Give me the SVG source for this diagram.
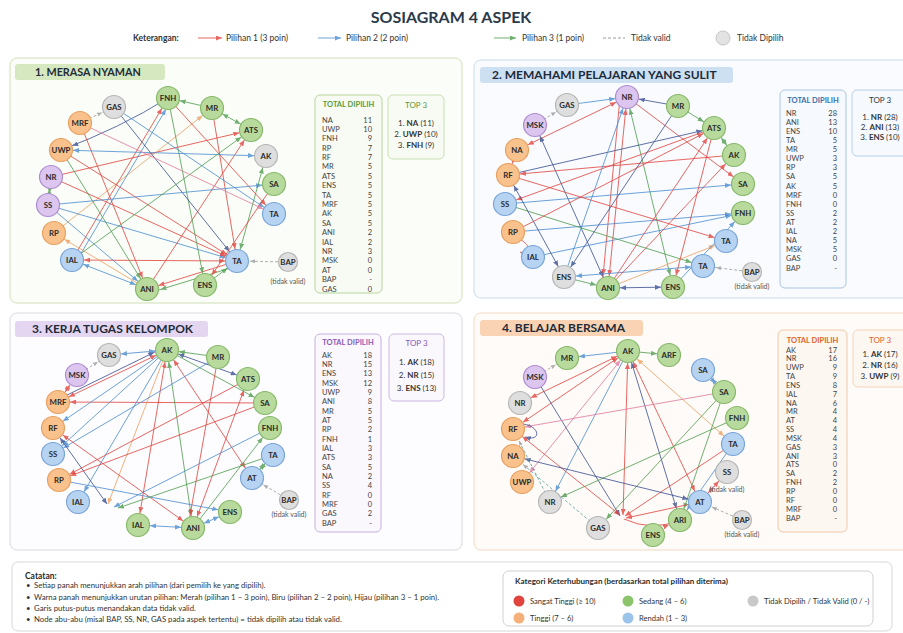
<svg xmlns="http://www.w3.org/2000/svg" width="903" height="633" viewBox="0 0 903 633">
<style>
text{font-family:Lato,"Open Sans","Liberation Sans",sans-serif;fill:#2b2b2b}
.ttl{font-size:16px;font-weight:700;fill:#2b3a4a;text-anchor:middle}
.lg{font-size:8.5px;fill:#333}
.pt{font-size:12px;font-weight:700;fill:#1e2b3a}
.n circle{stroke-width:1.2}
.n text{font-size:7.8px;font-weight:700;text-anchor:middle;fill:#2a2a2a}
.ng circle{fill:#b8da9c;stroke:#86b96a}
.no circle{fill:#f9c28c;stroke:#e8a060}
.np circle{fill:#dcc5ef;stroke:#ad8dcf}
.nb circle{fill:#b7d3f2;stroke:#79a5d8}
.nk circle{fill:#dedede;stroke:#b5b5b5}
.tv{font-size:7px;fill:#555;text-anchor:middle}
.c{fill:none;stroke-width:1;opacity:.8}
.r{stroke:#e2433d;marker-end:url(#mr)}.r.bi{marker-start:url(#mr)}
.b{stroke:#4a8dd0;marker-end:url(#mb)}.b.bi{marker-start:url(#mb)}
.g{stroke:#4f9d4f;marker-end:url(#mg)}.g.bi{marker-start:url(#mg)}
.d{stroke:#3a4f92;marker-end:url(#md)}.d.bi{marker-start:url(#md)}
.o{stroke:#f0a060;marker-end:url(#mo)}.o.bi{marker-start:url(#mo)}
.p{stroke:#e07aa0;marker-end:url(#mp)}.p.bi{marker-start:url(#mp)}
.k{stroke:#9c9c9c;stroke-dasharray:3 2;marker-end:url(#mk)}
.kt{stroke:#5aa0a0;stroke-dasharray:3 2;marker-end:url(#mk)}
.rf{stroke:#e2433d;marker-end:url(#mrf)}.rf.bi{marker-start:url(#mr)}
.bf{stroke:#4a8dd0;marker-end:url(#mbf)}
.gf{stroke:#4f9d4f;marker-end:url(#mgf)}
.df{stroke:#3a4f92;marker-end:url(#mdf)}.df.bi{marker-start:url(#md)}
.of{stroke:#f0a060;marker-end:url(#mof)}
.tb text{font-size:7.5px;fill:#444}
.tv2{text-anchor:end}
.th{font-size:7.5px;font-weight:700;text-anchor:middle}
.t3 text{font-size:8px;text-anchor:middle;fill:#333}
.t3 tspan.bn{font-weight:700}
.note{font-size:7.8px;fill:#333}
.kn{font-size:7.6px;fill:#333}
</style>
<defs>
<marker id="mr" viewBox="0 0 6 5" refX="18" refY="2.5" markerWidth="6" markerHeight="5" markerUnits="userSpaceOnUse" orient="auto-start-reverse"><path d="M0,0 L6,2.5 L0,5z" fill="#e2433d"/></marker>
<marker id="mb" viewBox="0 0 6 5" refX="18" refY="2.5" markerWidth="6" markerHeight="5" markerUnits="userSpaceOnUse" orient="auto-start-reverse"><path d="M0,0 L6,2.5 L0,5z" fill="#4a8dd0"/></marker>
<marker id="mg" viewBox="0 0 6 5" refX="18" refY="2.5" markerWidth="6" markerHeight="5" markerUnits="userSpaceOnUse" orient="auto-start-reverse"><path d="M0,0 L6,2.5 L0,5z" fill="#4f9d4f"/></marker>
<marker id="md" viewBox="0 0 6 5" refX="18" refY="2.5" markerWidth="6" markerHeight="5" markerUnits="userSpaceOnUse" orient="auto-start-reverse"><path d="M0,0 L6,2.5 L0,5z" fill="#3a4f92"/></marker>
<marker id="mo" viewBox="0 0 6 5" refX="18" refY="2.5" markerWidth="6" markerHeight="5" markerUnits="userSpaceOnUse" orient="auto-start-reverse"><path d="M0,0 L6,2.5 L0,5z" fill="#f0a060"/></marker>
<marker id="mp" viewBox="0 0 6 5" refX="18" refY="2.5" markerWidth="6" markerHeight="5" markerUnits="userSpaceOnUse" orient="auto-start-reverse"><path d="M0,0 L6,2.5 L0,5z" fill="#e07aa0"/></marker>
<marker id="mk" viewBox="0 0 6 5" refX="18" refY="2.5" markerWidth="6" markerHeight="5" markerUnits="userSpaceOnUse" orient="auto-start-reverse"><path d="M0,0.5 L5,2.5 L0,4.5z" fill="#9c9c9c"/></marker>
<marker id="mrf" viewBox="0 0 6 5" refX="6" refY="2.5" markerWidth="6" markerHeight="5" markerUnits="userSpaceOnUse" orient="auto"><path d="M0,0 L6,2.5 L0,5z" fill="#e2433d"/></marker>
<marker id="mbf" viewBox="0 0 6 5" refX="6" refY="2.5" markerWidth="6" markerHeight="5" markerUnits="userSpaceOnUse" orient="auto"><path d="M0,0 L6,2.5 L0,5z" fill="#4a8dd0"/></marker>
<marker id="mgf" viewBox="0 0 6 5" refX="6" refY="2.5" markerWidth="6" markerHeight="5" markerUnits="userSpaceOnUse" orient="auto"><path d="M0,0 L6,2.5 L0,5z" fill="#4f9d4f"/></marker>
<marker id="mdf" viewBox="0 0 6 5" refX="6" refY="2.5" markerWidth="6" markerHeight="5" markerUnits="userSpaceOnUse" orient="auto"><path d="M0,0 L6,2.5 L0,5z" fill="#3a4f92"/></marker>
<marker id="mof" viewBox="0 0 6 5" refX="6" refY="2.5" markerWidth="6" markerHeight="5" markerUnits="userSpaceOnUse" orient="auto"><path d="M0,0 L6,2.5 L0,5z" fill="#f0a060"/></marker>
</defs>
<rect width="903" height="633" fill="#ffffff"/>

<!-- Title & legend -->
<g id="header">
<text class="ttl" x="451" y="23">SOSIAGRAM 4 ASPEK</text>
<text class="lg" x="133" y="41" font-weight="700">Keterangan:</text>
<line class="c rf" x1="198" y1="38" x2="222" y2="38"/>
<text class="lg" x="226" y="41">Pilihan 1 (3 poin)</text>
<line class="c bf" x1="318" y1="38" x2="341" y2="38"/>
<text class="lg" x="346" y="41">Pilihan 2 (2 poin)</text>
<line class="c gf" x1="494" y1="38" x2="516" y2="38"/>
<text class="lg" x="522" y="41">Pilihan 3 (1 poin)</text>
<line x1="603" y1="38" x2="625" y2="38" stroke="#9c9c9c" stroke-width="1.1" stroke-dasharray="3 2"/>
<text class="lg" x="631" y="41">Tidak valid</text>
<circle cx="723" cy="38" r="7" fill="#e3e3e3" stroke="#c4c4c4"/>
<text class="lg" x="737" y="41">Tidak Dipilih</text>
</g>

<!-- Panels -->
<g id="panel1-frame">
<rect x="10" y="58" width="452" height="245" rx="7" fill="#fbfdf8" stroke="#cfe0b8"/>
<rect x="15" y="64" width="150" height="16" rx="3" fill="#d5e8bf"/>
<text class="pt" x="35" y="76" style="font-size:10.8px">1. MERASA NYAMAN</text>
</g>
<g id="panel2-frame">
<rect x="474" y="60" width="440" height="238" rx="7" fill="#f9fbfe" stroke="#c9dcee"/>
<rect x="480" y="67" width="253" height="16" rx="3" fill="#cde0f2"/>
<text class="pt" x="492" y="79">2. MEMAHAMI PELAJARAN YANG SULIT</text>
</g>
<g id="panel3-frame">
<rect x="10" y="313" width="452" height="237" rx="7" fill="#fdfcfe" stroke="#dcd6e2"/>
<rect x="15" y="321" width="193" height="16" rx="3" fill="#e4d5f0"/>
<text class="pt" x="32" y="333">3. KERJA TUGAS KELOMPOK</text>
</g>
<g id="panel4-frame">
<rect x="474" y="313" width="440" height="237" rx="7" fill="#fffbf8" stroke="#f1d9c3"/>
<rect x="480" y="320" width="163" height="16" rx="3" fill="#f9d3b3"/>
<text class="pt" x="502" y="332">4. BELAJAR BERSAMA</text>
</g>

<!-- Connectors -->
<g id="connectors">
<!-- panel 1 -->
<line class="c g" x1="212" y1="108" x2="168" y2="98"/>
<line class="c g bi" x1="212" y1="108" x2="251" y2="130"/>
<line class="c k" x1="80" y1="123" x2="114" y2="107"/>
<path class="c d" d="M168,98 Q120,128 61,150"/>
<line class="c r" x1="51" y1="177" x2="251" y2="130"/>
<line class="c o" x1="54" y1="233" x2="212" y2="108"/>
<line class="c r" x1="72" y1="260" x2="168" y2="98"/>
<line class="c b" x1="76" y1="262" x2="172" y2="99"/>
<line class="c r bi" x1="72" y1="260" x2="237" y2="261"/>
<line class="c b" x1="48" y1="205" x2="237" y2="261"/>
<line class="c r" x1="51" y1="177" x2="237" y2="261"/>
<line class="c r" x1="61" y1="150" x2="237" y2="261"/>
<line class="c r" x1="80" y1="123" x2="147" y2="289"/>
<line class="c r" x1="147" y1="289" x2="251" y2="130"/>
<line class="c r" x1="237" y1="261" x2="147" y2="289"/>
<line class="c g" x1="237" y1="266" x2="149" y2="293"/>
<line class="c g" x1="168" y1="98" x2="205" y2="285"/>
<line class="c d" x1="114" y1="107" x2="237" y2="261"/>
<line class="c r" x1="168" y1="98" x2="274" y2="214"/>
<line class="c r" x1="212" y1="108" x2="237" y2="261"/>
<line class="c g" x1="61" y1="150" x2="147" y2="289"/>
<line class="c b bi" x1="72" y1="260" x2="147" y2="289"/>
<line class="c o" x1="147" y1="289" x2="54" y2="233"/>
<line class="c g bi" x1="48" y1="205" x2="51" y2="177"/>
<line class="c b" x1="48" y1="205" x2="147" y2="289"/>
<line class="c b bi" x1="61" y1="150" x2="266" y2="156"/>
<line class="c b" x1="48" y1="205" x2="274" y2="184"/>
<line class="c b" x1="114" y1="107" x2="274" y2="214"/>
<line class="c g bi" x1="266" y1="156" x2="237" y2="261"/>
<line class="c r" x1="274" y1="184" x2="205" y2="285"/>
<line class="c g" x1="72" y1="260" x2="251" y2="130"/>
<line class="c p" x1="80" y1="123" x2="274" y2="214"/>
<line class="c k" x1="288" y1="262" x2="237" y2="261"/>
<line class="c g" x1="205" y1="285" x2="237" y2="261"/>
<!-- panel 2 -->
<line class="c b" x1="567" y1="105" x2="627" y2="97"/>
<line class="c d" x1="678" y1="106" x2="627" y2="97"/>
<line class="c k" x1="535" y1="125" x2="567" y2="105"/>
<line class="c g" x1="678" y1="106" x2="714" y2="128"/>
<line class="c r bi" x1="517" y1="150" x2="627" y2="97"/>
<line class="c d bi" x1="535" y1="125" x2="608" y2="288"/>
<line class="c r bi" x1="627" y1="97" x2="608" y2="288"/>
<line class="c r" x1="620" y1="98" x2="602" y2="287"/>
<line class="c g bi" x1="627" y1="97" x2="673" y2="287"/>
<line class="c r" x1="627" y1="97" x2="743" y2="184"/>
<line class="c d" x1="508" y1="175" x2="714" y2="128"/>
<line class="c r" x1="734" y1="155" x2="508" y2="175"/>
<line class="c r" x1="714" y1="128" x2="505" y2="204"/>
<line class="c b" x1="505" y1="204" x2="743" y2="184"/>
<line class="c b" x1="513" y1="232" x2="743" y2="213"/>
<line class="c b" x1="533" y1="257" x2="743" y2="213"/>
<line class="c g" x1="505" y1="204" x2="703" y2="266"/>
<line class="c r" x1="508" y1="175" x2="726" y2="241"/>
<line class="c d bi" x1="508" y1="175" x2="564" y2="277"/>
<line class="c r" x1="517" y1="150" x2="508" y2="175"/>
<line class="c b" x1="564" y1="277" x2="627" y2="97"/>
<line class="c b bi" x1="564" y1="277" x2="703" y2="266"/>
<line class="c g" x1="564" y1="277" x2="608" y2="288"/>
<line class="c d bi" x1="608" y1="288" x2="673" y2="287"/>
<line class="c r" x1="608" y1="288" x2="714" y2="128"/>
<line class="c r" x1="608" y1="288" x2="734" y2="155"/>
<line class="c o" x1="608" y1="288" x2="726" y2="241"/>
<line class="c b" x1="673" y1="287" x2="743" y2="213"/>
<line class="c r" x1="714" y1="128" x2="673" y2="287"/>
<line class="c d" x1="678" y1="106" x2="564" y2="277"/>
<line class="c g bi" x1="734" y1="155" x2="714" y2="128"/>
<line class="c k" x1="752" y1="272" x2="703" y2="266"/>
<line class="c r" x1="513" y1="232" x2="714" y2="128"/>
<path class="c rf" d="M521,240 C532,246 530,256 520,252"/>
<!-- panel 3 -->
<line class="c b bi" x1="167" y1="350" x2="109" y2="355"/>
<line class="c g" x1="218" y1="357" x2="167" y2="350"/>
<line class="c k" x1="77" y1="375" x2="109" y2="355"/>
<line class="c r bi" x1="77" y1="375" x2="58" y2="402"/>
<line class="c r bi" x1="58" y1="402" x2="167" y2="350"/>
<line class="c d" x1="61" y1="398" x2="165" y2="347"/>
<line class="c r" x1="265" y1="403" x2="58" y2="402"/>
<line class="c b" x1="167" y1="350" x2="53" y2="428"/>
<line class="c b" x1="167" y1="350" x2="53" y2="454"/>
<line class="c b" x1="167" y1="350" x2="78" y2="502"/>
<line class="c g bi" x1="167" y1="350" x2="193" y2="528"/>
<line class="c r bi" x1="167" y1="350" x2="138" y2="525"/>
<line class="c of" x1="167" y1="350" x2="108" y2="504"/>
<line class="c r bi" x1="167" y1="350" x2="252" y2="478"/>
<line class="c d bi" x1="167" y1="350" x2="248" y2="379"/>
<line class="c g" x1="167" y1="350" x2="265" y2="403"/>
<line class="c b" x1="218" y1="357" x2="53" y2="454"/>
<line class="c r" x1="248" y1="379" x2="59" y2="480"/>
<line class="c r bi" x1="248" y1="379" x2="193" y2="528"/>
<line class="c r" x1="265" y1="403" x2="59" y2="480"/>
<line class="c bf" x1="270" y1="428" x2="114" y2="507"/>
<line class="c g" x1="193" y1="528" x2="270" y2="428"/>
<line class="c r bi" x1="53" y1="428" x2="193" y2="528"/>
<line class="c df bi" x1="53" y1="428" x2="107" y2="504"/>
<line class="c b" x1="59" y1="480" x2="230" y2="512"/>
<line class="c g bi" x1="273" y1="455" x2="252" y2="478"/>
<line class="c gf" x1="273" y1="455" x2="118" y2="508"/>
<line class="c b bi" x1="138" y1="525" x2="193" y2="528"/>
<line class="c b bi" x1="193" y1="528" x2="230" y2="512"/>
<line class="c k" x1="289" y1="500" x2="252" y2="478"/>
<line class="c r" x1="218" y1="357" x2="188" y2="527"/>
<!-- panel 4 -->
<line class="c b" x1="628" y1="351" x2="567" y2="358"/>
<line class="c g" x1="628" y1="351" x2="669" y2="355"/>
<line class="c k" x1="535" y1="377" x2="567" y2="358"/>
<line class="c r bi" x1="520" y1="403" x2="628" y2="351"/>
<line class="c r bi" x1="513" y1="429" x2="628" y2="351"/>
<line class="c p bi" x1="522" y1="482" x2="628" y2="351"/>
<line class="c df" x1="535" y1="377" x2="620" y2="516"/>
<line class="c b" x1="628" y1="351" x2="550" y2="502"/>
<line class="c rf bi" x1="628" y1="351" x2="623" y2="515"/>
<line class="c d bi" x1="628" y1="351" x2="680" y2="520"/>
<line class="c r bi" x1="628" y1="351" x2="700" y2="502"/>
<line class="c o bi" x1="628" y1="351" x2="733" y2="444"/>
<line class="c p" x1="724" y1="392" x2="513" y2="429"/>
<line class="c b bi" x1="703" y1="370" x2="724" y2="392"/>
<line class="c g" x1="724" y1="392" x2="598" y2="528"/>
<line class="c g" x1="737" y1="418" x2="550" y2="502"/>
<line class="c g" x1="724" y1="392" x2="680" y2="520"/>
<line class="c b" x1="733" y1="444" x2="680" y2="520"/>
<line class="c rf" x1="733" y1="444" x2="625" y2="516"/>
<path class="c df" d="M523,424 C540,426 542,442 525,437"/>
<line class="c rf bi" x1="513" y1="429" x2="620" y2="515"/>
<line class="c d bi" x1="513" y1="456" x2="700" y2="502"/>
<line class="c kt" x1="598" y1="528" x2="513" y2="456"/>
<line class="c kt" x1="550" y1="502" x2="513" y2="429"/>
<line class="c r bi" x1="700" y1="502" x2="727" y2="472"/>
<line class="c rf" x1="700" y1="502" x2="626" y2="518"/>
<path class="c r" d="M624,519 Q652,532 680,520"/>
<line class="c k" x1="742" y1="520" x2="700" y2="502"/>
</g>

<!-- Nodes panel 1 -->
<g id="p1-FNH" class="n ng"><circle cx="168" cy="98" r="11.5"/><text x="168" y="100.8">FNH</text></g>
<g id="p1-MR" class="n ng"><circle cx="212" cy="108" r="11.5"/><text x="212" y="110.8">MR</text></g>
<g id="p1-ATS" class="n ng"><circle cx="251" cy="130" r="11.5"/><text x="251" y="132.8">ATS</text></g>
<g id="p1-AK" class="n nk"><circle cx="266" cy="156" r="11.5"/><text x="266" y="158.8">AK</text></g>
<g id="p1-SA" class="n ng"><circle cx="274" cy="184" r="11.5"/><text x="274" y="186.8">SA</text></g>
<g id="p1-TA-1" class="n nb"><circle cx="274" cy="214" r="11.5"/><text x="274" y="216.8">TA</text></g>
<g id="p1-TA-2" class="n nb"><circle cx="237" cy="261" r="11.5"/><text x="237" y="263.8">TA</text></g>
<g id="p1-BAP" class="n nk"><circle cx="288" cy="262" r="9.5"/><text x="288" y="264.8">BAP</text></g>
<text class="tv" x="288" y="284">(tidak valid)</text>
<g id="p1-ENS" class="n ng"><circle cx="205" cy="285" r="11.5"/><text x="205" y="287.8">ENS</text></g>
<g id="p1-ANI" class="n ng"><circle cx="147" cy="289" r="11.5"/><text x="147" y="291.8">ANI</text></g>
<g id="p1-IAL" class="n nb"><circle cx="72" cy="260" r="11.5"/><text x="72" y="262.8">IAL</text></g>
<g id="p1-RP" class="n no"><circle cx="54" cy="233" r="11.5"/><text x="54" y="235.8">RP</text></g>
<g id="p1-SS" class="n np"><circle cx="48" cy="205" r="11.5"/><text x="48" y="207.8">SS</text></g>
<g id="p1-NR" class="n np"><circle cx="51" cy="177" r="11.5"/><text x="51" y="179.8">NR</text></g>
<g id="p1-UWP" class="n no"><circle cx="61" cy="150" r="11.5"/><text x="61" y="152.8">UWP</text></g>
<g id="p1-MRF" class="n no"><circle cx="80" cy="123" r="11.5"/><text x="80" y="125.8">MRF</text></g>
<g id="p1-GAS" class="n nk"><circle cx="114" cy="107" r="11.5"/><text x="114" y="109.8">GAS</text></g>

<!-- Nodes panel 2 -->
<g id="p2-NR" class="n np"><circle cx="627" cy="97" r="11.5"/><text x="627" y="99.8">NR</text></g>
<g id="p2-MR" class="n ng"><circle cx="678" cy="106" r="11.5"/><text x="678" y="108.8">MR</text></g>
<g id="p2-GAS" class="n nk"><circle cx="567" cy="105" r="11.5"/><text x="567" y="107.8">GAS</text></g>
<g id="p2-MSK" class="n np"><circle cx="535" cy="125" r="11.5"/><text x="535" y="127.8">MSK</text></g>
<g id="p2-ATS" class="n ng"><circle cx="714" cy="128" r="11.5"/><text x="714" y="130.8">ATS</text></g>
<g id="p2-NA" class="n no"><circle cx="517" cy="150" r="11.5"/><text x="517" y="152.8">NA</text></g>
<g id="p2-AK" class="n ng"><circle cx="734" cy="155" r="11.5"/><text x="734" y="157.8">AK</text></g>
<g id="p2-RF" class="n no"><circle cx="508" cy="175" r="11.5"/><text x="508" y="177.8">RF</text></g>
<g id="p2-SA" class="n ng"><circle cx="743" cy="184" r="11.5"/><text x="743" y="186.8">SA</text></g>
<g id="p2-SS" class="n nb"><circle cx="505" cy="204" r="11.5"/><text x="505" y="206.8">SS</text></g>
<g id="p2-FNH" class="n ng"><circle cx="743" cy="213" r="11.5"/><text x="743" y="215.8">FNH</text></g>
<g id="p2-RP" class="n no"><circle cx="513" cy="232" r="11.5"/><text x="513" y="234.8">RP</text></g>
<g id="p2-TA-1" class="n nb"><circle cx="726" cy="241" r="11.5"/><text x="726" y="243.8">TA</text></g>
<g id="p2-IAL" class="n nb"><circle cx="533" cy="257" r="11.5"/><text x="533" y="259.8">IAL</text></g>
<g id="p2-TA-2" class="n nb"><circle cx="703" cy="266" r="11.5"/><text x="703" y="268.8">TA</text></g>
<g id="p2-BAP" class="n nk"><circle cx="752" cy="272" r="9.5"/><text x="752" y="274.8">BAP</text></g>
<text class="tv" x="752" y="289">(tidak valid)</text>
<g id="p2-ENS-1" class="n nk"><circle cx="564" cy="277" r="11.5"/><text x="564" y="279.8">ENS</text></g>
<g id="p2-ANI" class="n ng"><circle cx="608" cy="288" r="11.5"/><text x="608" y="290.8">ANI</text></g>
<g id="p2-ENS-2" class="n ng"><circle cx="673" cy="287" r="11.5"/><text x="673" y="289.8">ENS</text></g>

<!-- Nodes panel 3 -->
<g id="p3-AK" class="n ng"><circle cx="167" cy="350" r="11.5"/><text x="167" y="352.8">AK</text></g>
<g id="p3-MR" class="n ng"><circle cx="218" cy="357" r="11.5"/><text x="218" y="359.8">MR</text></g>
<g id="p3-GAS" class="n nk"><circle cx="109" cy="355" r="11.5"/><text x="109" y="357.8">GAS</text></g>
<g id="p3-MSK" class="n np"><circle cx="77" cy="375" r="11.5"/><text x="77" y="377.8">MSK</text></g>
<g id="p3-ATS" class="n ng"><circle cx="248" cy="379" r="11.5"/><text x="248" y="381.8">ATS</text></g>
<g id="p3-MRF" class="n no"><circle cx="58" cy="402" r="11.5"/><text x="58" y="404.8">MRF</text></g>
<g id="p3-SA" class="n ng"><circle cx="265" cy="403" r="11.5"/><text x="265" y="405.8">SA</text></g>
<g id="p3-RF" class="n no"><circle cx="53" cy="428" r="11.5"/><text x="53" y="430.8">RF</text></g>
<g id="p3-FNH" class="n ng"><circle cx="270" cy="428" r="11.5"/><text x="270" y="430.8">FNH</text></g>
<g id="p3-SS" class="n nb"><circle cx="53" cy="454" r="11.5"/><text x="53" y="456.8">SS</text></g>
<g id="p3-TA" class="n nb"><circle cx="273" cy="455" r="11.5"/><text x="273" y="457.8">TA</text></g>
<g id="p3-RP" class="n no"><circle cx="59" cy="480" r="11.5"/><text x="59" y="482.8">RP</text></g>
<g id="p3-AT" class="n nb"><circle cx="252" cy="478" r="11.5"/><text x="252" y="480.8">AT</text></g>
<g id="p3-IAL-1" class="n nb"><circle cx="78" cy="502" r="11.5"/><text x="78" y="504.8">IAL</text></g>
<g id="p3-BAP" class="n nk"><circle cx="289" cy="500" r="9.5"/><text x="289" y="502.8">BAP</text></g>
<text class="tv" x="289" y="517">(tidak valid)</text>
<g id="p3-ENS" class="n ng"><circle cx="230" cy="512" r="11.5"/><text x="230" y="514.8">ENS</text></g>
<g id="p3-IAL-2" class="n ng"><circle cx="138" cy="525" r="11.5"/><text x="138" y="527.8">IAL</text></g>
<g id="p3-ANI" class="n ng"><circle cx="193" cy="528" r="11.5"/><text x="193" y="530.8">ANI</text></g>

<!-- Nodes panel 4 -->
<g id="p4-AK" class="n ng"><circle cx="628" cy="351" r="11.5"/><text x="628" y="353.8">AK</text></g>
<g id="p4-ARF" class="n ng"><circle cx="669" cy="355" r="11.5"/><text x="669" y="357.8">ARF</text></g>
<g id="p4-MR" class="n ng"><circle cx="567" cy="358" r="11.5"/><text x="567" y="360.8">MR</text></g>
<g id="p4-SA-1" class="n nb"><circle cx="703" cy="370" r="11.5"/><text x="703" y="372.8">SA</text></g>
<g id="p4-MSK" class="n np"><circle cx="535" cy="377" r="11.5"/><text x="535" y="379.8">MSK</text></g>
<g id="p4-SA-2" class="n ng"><circle cx="724" cy="392" r="11.5"/><text x="724" y="394.8">SA</text></g>
<g id="p4-NR-1" class="n nk"><circle cx="520" cy="403" r="11.5"/><text x="520" y="405.8">NR</text></g>
<g id="p4-FNH" class="n ng"><circle cx="737" cy="418" r="11.5"/><text x="737" y="420.8">FNH</text></g>
<g id="p4-RF" class="n no"><circle cx="513" cy="429" r="11.5"/><text x="513" y="431.8">RF</text></g>
<g id="p4-TA" class="n nb"><circle cx="733" cy="444" r="11.5"/><text x="733" y="446.8">TA</text></g>
<g id="p4-NA" class="n no"><circle cx="513" cy="456" r="11.5"/><text x="513" y="458.8">NA</text></g>
<g id="p4-SS" class="n nk"><circle cx="727" cy="472" r="11.5"/><text x="727" y="474.8">SS</text></g>
<text class="tv" x="727" y="492">(tidak valid)</text>
<g id="p4-UWP" class="n no"><circle cx="522" cy="482" r="11.5"/><text x="522" y="484.8">UWP</text></g>
<g id="p4-NR-2" class="n nk"><circle cx="550" cy="502" r="11.5"/><text x="550" y="504.8">NR</text></g>
<g id="p4-AT" class="n nb"><circle cx="700" cy="502" r="11.5"/><text x="700" y="504.8">AT</text></g>
<g id="p4-BAP" class="n nk"><circle cx="742" cy="520" r="9.5"/><text x="742" y="522.8">BAP</text></g>
<text class="tv" x="742" y="537">(tidak valid)</text>
<g id="p4-GAS" class="n nk"><circle cx="598" cy="528" r="11.5"/><text x="598" y="530.8">GAS</text></g>
<g id="p4-ARI" class="n ng"><circle cx="680" cy="520" r="11.5"/><text x="680" y="522.8">ARI</text></g>
<g id="p4-ENS" class="n ng"><circle cx="653" cy="535" r="11.5"/><text x="653" y="537.8">ENS</text></g>

<!-- Tables panel 1 -->
<g id="p1-total" class="tb">
<rect x="315" y="95" width="67" height="198" rx="5" fill="#f8fbf3" stroke="#b9d59c"/>
<text class="th" x="348.5" y="107" style="fill:#5a9a3a">TOTAL DIPILIH</text>
<text x="322"><tspan x="322" y="122.5">NA</tspan><tspan x="322" y="131.9">UWP</tspan><tspan x="322" y="141.3">FNH</tspan><tspan x="322" y="150.7">RP</tspan><tspan x="322" y="160.1">RF</tspan><tspan x="322" y="169.4">MR</tspan><tspan x="322" y="178.8">ATS</tspan><tspan x="322" y="188.2">ENS</tspan><tspan x="322" y="197.6">TA</tspan><tspan x="322" y="207">MRF</tspan><tspan x="322" y="216.4">AK</tspan><tspan x="322" y="225.8">SA</tspan><tspan x="322" y="235.2">ANI</tspan><tspan x="322" y="244.6">IAL</tspan><tspan x="322" y="254">NR</tspan><tspan x="322" y="263.3">MSK</tspan><tspan x="322" y="272.7">AT</tspan><tspan x="322" y="282.1">BAP</tspan><tspan x="322" y="291.5">GAS</tspan></text>
<text class="tv2" x="372"><tspan x="372" y="122.5">11</tspan><tspan x="372" y="131.9">10</tspan><tspan x="372" y="141.3">9</tspan><tspan x="372" y="150.7">7</tspan><tspan x="372" y="160.1">7</tspan><tspan x="372" y="169.4">5</tspan><tspan x="372" y="178.8">5</tspan><tspan x="372" y="188.2">5</tspan><tspan x="372" y="197.6">5</tspan><tspan x="372" y="207">5</tspan><tspan x="372" y="216.4">5</tspan><tspan x="372" y="225.8">5</tspan><tspan x="372" y="235.2">2</tspan><tspan x="372" y="244.6">2</tspan><tspan x="372" y="254">3</tspan><tspan x="372" y="263.3">0</tspan><tspan x="372" y="272.7">0</tspan><tspan x="372" y="282.1">-</tspan><tspan x="372" y="291.5">0</tspan></text>
</g>
<g id="p1-top3" class="t3">
<rect x="388" y="95" width="56" height="64" rx="5" fill="#f8fbf3" stroke="#c9dfb2"/>
<text x="416" y="108" style="fill:#5a9a3a">TOP 3</text>
<text x="416" y="126">1. <tspan class="bn">NA</tspan> (11)</text>
<text x="416" y="137">2. <tspan class="bn">UWP</tspan> (10)</text>
<text x="416" y="148">3. <tspan class="bn">FNH</tspan> (9)</text>
</g>

<!-- Tables panel 2 -->
<g id="p2-total" class="tb">
<rect x="780" y="90" width="66" height="198" rx="5" fill="#f6f9fd" stroke="#a9c6e2"/>
<text class="th" x="813" y="103" style="fill:#3a6fa8">TOTAL DIPILIH</text>
<text x="786"><tspan x="786" y="115.5">NR</tspan><tspan x="786" y="124.6">ANI</tspan><tspan x="786" y="133.7">ENS</tspan><tspan x="786" y="142.9">TA</tspan><tspan x="786" y="152">MR</tspan><tspan x="786" y="161.1">UWP</tspan><tspan x="786" y="170.2">RP</tspan><tspan x="786" y="179.3">SA</tspan><tspan x="786" y="188.5">AK</tspan><tspan x="786" y="197.6">MRF</tspan><tspan x="786" y="206.7">FNH</tspan><tspan x="786" y="215.8">SS</tspan><tspan x="786" y="224.9">AT</tspan><tspan x="786" y="234.1">IAL</tspan><tspan x="786" y="243.2">NA</tspan><tspan x="786" y="252.3">MSK</tspan><tspan x="786" y="261.4">GAS</tspan><tspan x="786" y="270.5">BAP</tspan></text>
<text class="tv2" x="837"><tspan x="837" y="115.5">28</tspan><tspan x="837" y="124.6">13</tspan><tspan x="837" y="133.7">10</tspan><tspan x="837" y="142.9">5</tspan><tspan x="837" y="152">5</tspan><tspan x="837" y="161.1">3</tspan><tspan x="837" y="170.2">3</tspan><tspan x="837" y="179.3">5</tspan><tspan x="837" y="188.5">5</tspan><tspan x="837" y="197.6">0</tspan><tspan x="837" y="206.7">0</tspan><tspan x="837" y="215.8">2</tspan><tspan x="837" y="224.9">2</tspan><tspan x="837" y="234.1">2</tspan><tspan x="837" y="243.2">5</tspan><tspan x="837" y="252.3">5</tspan><tspan x="837" y="261.4">0</tspan><tspan x="837" y="270.5">-</tspan></text>
</g>
<g id="p2-top3" class="t3">
<rect x="852" y="90" width="60" height="66" rx="5" fill="#f6f9fd" stroke="#b8d0e8"/>
<text x="880" y="103" style="fill:#2b3a4a">TOP 3</text>
<text x="880" y="120">1. <tspan class="bn">NR</tspan> (28)</text>
<text x="880" y="130">2. <tspan class="bn">ANI</tspan> (13)</text>
<text x="880" y="140">3. <tspan class="bn">ENS</tspan> (10)</text>
</g>

<!-- Tables panel 3 -->
<g id="p3-total" class="tb">
<rect x="315" y="334" width="66" height="198" rx="5" fill="#faf7fd" stroke="#c7b0e0"/>
<text class="th" x="348" y="345" style="fill:#8a5ab5">TOTAL DIPILIH</text>
<text x="322"><tspan x="322" y="357.5">AK</tspan><tspan x="322" y="366.8">NR</tspan><tspan x="322" y="376.2">ENS</tspan><tspan x="322" y="385.5">MSK</tspan><tspan x="322" y="394.8">UWP</tspan><tspan x="322" y="404.2">ANI</tspan><tspan x="322" y="413.5">MR</tspan><tspan x="322" y="422.8">AT</tspan><tspan x="322" y="432.1">RP</tspan><tspan x="322" y="441.5">FNH</tspan><tspan x="322" y="450.8">IAL</tspan><tspan x="322" y="460.1">ATS</tspan><tspan x="322" y="469.5">SA</tspan><tspan x="322" y="478.8">NA</tspan><tspan x="322" y="488.1">SS</tspan><tspan x="322" y="497.5">RF</tspan><tspan x="322" y="506.8">MRF</tspan><tspan x="322" y="516.1">GAS</tspan><tspan x="322" y="525.5">BAP</tspan></text>
<text class="tv2" x="372"><tspan x="372" y="357.5">18</tspan><tspan x="372" y="366.8">15</tspan><tspan x="372" y="376.2">13</tspan><tspan x="372" y="385.5">12</tspan><tspan x="372" y="394.8">9</tspan><tspan x="372" y="404.2">8</tspan><tspan x="372" y="413.5">5</tspan><tspan x="372" y="422.8">5</tspan><tspan x="372" y="432.1">2</tspan><tspan x="372" y="441.5">1</tspan><tspan x="372" y="450.8">3</tspan><tspan x="372" y="460.1">3</tspan><tspan x="372" y="469.5">5</tspan><tspan x="372" y="478.8">2</tspan><tspan x="372" y="488.1">4</tspan><tspan x="372" y="497.5">0</tspan><tspan x="372" y="506.8">0</tspan><tspan x="372" y="516.1">2</tspan><tspan x="372" y="525.5">-</tspan></text>
</g>
<g id="p3-top3" class="t3">
<rect x="389" y="334" width="55" height="67" rx="5" fill="#faf7fd" stroke="#cdb9e3"/>
<text x="416.5" y="346" style="fill:#8a5ab5">TOP 3</text>
<text x="416.5" y="365">1. <tspan class="bn">AK</tspan> (18)</text>
<text x="416.5" y="378">2. <tspan class="bn">NR</tspan> (15)</text>
<text x="416.5" y="391">3. <tspan class="bn">ENS</tspan> (13)</text>
</g>

<!-- Tables panel 4 -->
<g id="p4-total" class="tb">
<rect x="778" y="330" width="69" height="202" rx="5" fill="#fdf7f1" stroke="#f0c9a8"/>
<text class="th" x="812.5" y="343" style="fill:#e0622a">TOTAL DIPILIH</text>
<text x="786"><tspan x="786" y="352.5">AK</tspan><tspan x="786" y="361.3">NR</tspan><tspan x="786" y="370.2">UWP</tspan><tspan x="786" y="379">TA</tspan><tspan x="786" y="387.9">ENS</tspan><tspan x="786" y="396.7">IAL</tspan><tspan x="786" y="405.5">NA</tspan><tspan x="786" y="414.4">MR</tspan><tspan x="786" y="423.2">AT</tspan><tspan x="786" y="432.1">SS</tspan><tspan x="786" y="440.9">MSK</tspan><tspan x="786" y="449.7">GAS</tspan><tspan x="786" y="458.6">ANI</tspan><tspan x="786" y="467.4">ATS</tspan><tspan x="786" y="476.3">SA</tspan><tspan x="786" y="485.1">FNH</tspan><tspan x="786" y="493.9">RP</tspan><tspan x="786" y="502.8">RF</tspan><tspan x="786" y="511.6">MRF</tspan><tspan x="786" y="520.5">BAP</tspan></text>
<text class="tv2" x="837"><tspan x="837" y="352.5">17</tspan><tspan x="837" y="361.3">16</tspan><tspan x="837" y="370.2">9</tspan><tspan x="837" y="379">9</tspan><tspan x="837" y="387.9">8</tspan><tspan x="837" y="396.7">7</tspan><tspan x="837" y="405.5">6</tspan><tspan x="837" y="414.4">4</tspan><tspan x="837" y="423.2">4</tspan><tspan x="837" y="432.1">4</tspan><tspan x="837" y="440.9">4</tspan><tspan x="837" y="449.7">3</tspan><tspan x="837" y="458.6">3</tspan><tspan x="837" y="467.4">0</tspan><tspan x="837" y="476.3">2</tspan><tspan x="837" y="485.1">2</tspan><tspan x="837" y="493.9">0</tspan><tspan x="837" y="502.8">0</tspan><tspan x="837" y="511.6">0</tspan><tspan x="837" y="520.5">-</tspan></text>
</g>
<g id="p4-top3" class="t3">
<rect x="853" y="330" width="60" height="57" rx="5" fill="#fdf7f1" stroke="#f3d3b8"/>
<text x="880" y="343" style="fill:#e0622a">TOP 3</text>
<text x="880" y="357">1. <tspan class="bn">AK</tspan> (17)</text>
<text x="880" y="368">2. <tspan class="bn">NR</tspan> (16)</text>
<text x="880" y="379">3. <tspan class="bn">UWP</tspan> (9)</text>
</g>

<!-- Notes -->
<g id="notes">
<rect x="12" y="562" width="880" height="69" rx="6" fill="#ffffff" stroke="#d8d8d8"/>
<text x="25" y="579" font-size="8.5" font-weight="700" fill="#222">Catatan:</text>
<text class="note" x="26" y="588">•</text><text class="note" x="34" y="588">Setiap panah menunjukkan arah pilihan (dari pemilih ke yang dipilih).</text>
<text class="note" x="26" y="599.5">•</text><text class="note" x="34" y="599.5">Warna panah menunjukkan urutan pilihan: Merah (pilihan 1 – 3 poin), Biru (pilihan 2 – 2 poin), Hijau (pilihan 3 – 1 poin).</text>
<text class="note" x="26" y="610.5">•</text><text class="note" x="34" y="610.5">Garis putus-putus menandakan data tidak valid.</text>
<text class="note" x="26" y="621.5">•</text><text class="note" x="34" y="621.5">Node abu-abu (misal BAP, SS, NR, GAS pada aspek tertentu) = tidak dipilih atau tidak valid.</text>
</g>
<g id="kategori">
<rect x="503" y="571" width="370" height="55" rx="6" fill="#ffffff" stroke="#d0d0d0"/>
<text x="515" y="584" font-size="8" font-weight="700" fill="#222">Kategori Keterhubungan (berdasarkan total pilihan diterima)</text>
<circle cx="519" cy="601" r="5.5" fill="#e0443c"/>
<text class="kn" x="530" y="603.5">Sangat Tinggi (≥ 10)</text>
<circle cx="628" cy="601" r="5.5" fill="#8cc46c"/>
<text class="kn" x="639" y="603.5">Sedang (4 – 6)</text>
<circle cx="753" cy="601" r="5.5" fill="#c8c8c8"/>
<text class="kn" x="764" y="603.5">Tidak Dipilih / Tidak Valid (0 / -)</text>
<circle cx="519" cy="618" r="5.5" fill="#f5b07a"/>
<text class="kn" x="530" y="620.5">Tinggi (7 – 6)</text>
<circle cx="628" cy="618" r="5.5" fill="#9cc4ea"/>
<text class="kn" x="639" y="620.5">Rendah (1 – 3)</text>
</g>
</svg>
